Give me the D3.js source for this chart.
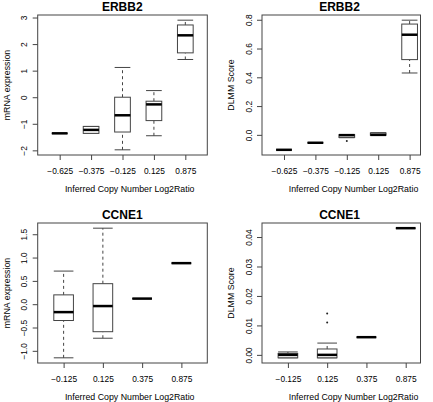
<!DOCTYPE html>
<html>
<head>
<meta charset="utf-8">
<script src="https://cdn.jsdelivr.net/npm/d3@7"></script>
<style>
  html, body { margin: 0; padding: 0; background: #fff; }
  svg { display: block; }
  text { font-family: "Liberation Sans", Arial, Helvetica, sans-serif; fill: #000; }
</style>
</head>
<body>
<div id="chart"></div>
<script>
// ---------------- data ----------------
const erbb2Categories = ["−0.625", "−0.375", "−0.125", "0.125", "0.875"];
const ccne1Categories = ["−0.125", "0.125", "0.375", "0.875"];

// box stats per group: [lower whisker, Q1, median, Q3, upper whisker]
const erbb2MrnaStats = [
  [-1.36, -1.36, -1.36, -1.36, -1.36],
  [-1.36, -1.36, -1.23, -1.10, -1.10],
  [-1.98, -1.31, -0.68, 0.00, 1.12],
  [-1.45, -0.88, -0.27, -0.15, 0.25],
  [1.42, 1.67, 2.33, 2.72, 2.90]
];
const erbb2MrnaOutliers = [[], [], [], [], []];

const erbb2DlmmStats = [
  [-0.104, -0.104, -0.104, -0.104, -0.104],
  [-0.055, -0.055, -0.055, -0.055, -0.055],
  [-0.020, -0.018, -0.002, 0.001, 0.002],
  [-0.003, -0.002, 0.000, 0.013, 0.015],
  [0.430, 0.523, 0.696, 0.770, 0.797]
];
const erbb2DlmmOutliers = [[], [], [-0.042], [], []];

const ccne1MrnaStats = [
  [-1.15, -0.35, -0.17, 0.20, 0.71],
  [-0.73, -0.59, -0.04, 0.44, 1.63],
  [0.12, 0.12, 0.12, 0.12, 0.12],
  [0.88, 0.88, 0.88, 0.88, 0.88]
];
const ccne1MrnaOutliers = [[], [], [], []];

const ccne1DlmmStats = [
  [-0.001, -0.001, 0.000, 0.0005, 0.001],
  [-0.001, -0.001, 0.000, 0.002, 0.004],
  [0.006, 0.006, 0.006, 0.006, 0.006],
  [0.043, 0.043, 0.043, 0.043, 0.043]
];
const ccne1DlmmOutliers = [[], [0.011, 0.014], [], []];

const erbb2MrnaTicks = [-2, -1, 0, 1, 2, 3];
const erbb2DlmmTicks = [0, 0.2, 0.4, 0.6, 0.8];
const ccne1MrnaTicks = [-1, -0.5, 0, 0.5, 1, 1.5];
const ccne1DlmmTicks = [0, 0.01, 0.02, 0.03, 0.04];

const panelTitles = ["ERBB2", "ERBB2", "CCNE1", "CCNE1"];
const yAxisTitles = ["mRNA expression", "DLMM Score", "mRNA expression", "DLMM Score"];
const xAxisTitle = "Inferred Copy Number Log2Ratio";

// ---------------- layout ----------------
const W = 433, H = 402;
// scaleRight: end of the data range; frameRight: where the frame is drawn
const cols = [
  { left: 37.7, scaleRight: 207.3, frameRight: 207.3, titleX: 122.3, xlabX: 129.7 },
  { left: 262, scaleRight: 431.6, frameRight: 420.5, titleX: 339.5, xlabX: 353.5 }
];
const rows = [{ top: 15, bottom: 155 }, { top: 223, bottom: 363 }];

const panels = [
  { col: 0, row: 0, cats: erbb2Categories, stats: erbb2MrnaStats, out: erbb2MrnaOutliers, ticks: erbb2MrnaTicks, fmt: d3.format("d"), title: panelTitles[0], ylab: yAxisTitles[0] },
  { col: 1, row: 0, cats: erbb2Categories, stats: erbb2DlmmStats, out: erbb2DlmmOutliers, ticks: erbb2DlmmTicks, fmt: d3.format(".1f"), title: panelTitles[1], ylab: yAxisTitles[1] },
  { col: 0, row: 1, cats: ccne1Categories, stats: ccne1MrnaStats, out: ccne1MrnaOutliers, ticks: ccne1MrnaTicks, fmt: d3.format(".1f"), title: panelTitles[2], ylab: yAxisTitles[2] },
  { col: 1, row: 1, cats: ccne1Categories, stats: ccne1DlmmStats, out: ccne1DlmmOutliers, ticks: ccne1DlmmTicks, fmt: d3.format(".2f"), title: panelTitles[3], ylab: yAxisTitles[3] }
];

const LINE = "#444";
const svg = d3.select("#chart").append("svg").attr("width", W).attr("height", H);

panels.forEach(p => {
  const c = cols[p.col];
  const L = c.left;
  const T = rows[p.row].top, B = rows[p.row].bottom;
  const n = p.cats.length;
  const x = d3.scaleLinear().domain([0.5 - 0.04 * n, n + 0.5 + 0.04 * n]).range([L, c.scaleRight]);
  const allVals = p.stats.flat().concat(p.out.flat());
  const [lo, hi] = d3.extent(allVals);
  const ext = (hi - lo) * 0.04;
  const y = d3.scaleLinear().domain([lo - ext, hi + ext]).range([B, T]);
  const g = svg.append("g");
  const positions = d3.range(1, n + 1);
  const halfW = 0.25;

  positions.forEach((pos, i) => {
    const s = p.stats[i];
    const bx = g.append("g");
    bx.append("line").attr("x1", x(pos)).attr("x2", x(pos)).attr("y1", y(s[0])).attr("y2", y(s[1]))
      .attr("stroke", LINE).attr("stroke-width", 1).attr("stroke-dasharray", "3,3");
    bx.append("line").attr("x1", x(pos)).attr("x2", x(pos)).attr("y1", y(s[3])).attr("y2", y(s[4]))
      .attr("stroke", LINE).attr("stroke-width", 1).attr("stroke-dasharray", "3,3");
    [s[0], s[4]].forEach(v => {
      bx.append("line").attr("x1", x(pos - halfW)).attr("x2", x(pos + halfW)).attr("y1", y(v)).attr("y2", y(v))
        .attr("stroke", LINE).attr("stroke-width", 1);
    });
    bx.append("rect").attr("x", x(pos - halfW)).attr("width", x(pos + halfW) - x(pos - halfW))
      .attr("y", y(s[3])).attr("height", Math.max(0, y(s[1]) - y(s[3])))
      .attr("fill", "#fff").attr("stroke", LINE).attr("stroke-width", 1);
    bx.append("line").attr("x1", x(pos - halfW)).attr("x2", x(pos + halfW)).attr("y1", y(s[2])).attr("y2", y(s[2]))
      .attr("stroke", "#000").attr("stroke-width", 2.5);
    p.out[i].forEach(v => {
      bx.append("circle").attr("cx", x(pos)).attr("cy", y(v)).attr("r", 1).attr("fill", "#222");
    });
  });

  g.append("rect").attr("x", L).attr("y", T).attr("width", c.frameRight - L).attr("height", B - T)
    .attr("fill", "none").attr("stroke", LINE).attr("stroke-width", 1);

  const xAxis = d3.axisBottom(x).tickValues(positions).tickFormat((d, i) => p.cats[i]).tickSize(5).tickPadding(2);
  const gx = g.append("g").attr("transform", `translate(0,${B})`).call(xAxis);
  gx.select(".domain").remove();
  gx.selectAll(".tick line").attr("stroke", LINE);
  gx.selectAll(".tick text").attr("font-size", 8.4).attr("dy", null).attr("y", 19)
    .style("font-family", "'Liberation Sans', Arial, sans-serif").attr("fill", "#000");

  const yAxis = d3.axisLeft(y).tickValues(p.ticks).tickFormat(p.fmt).tickSize(5);
  const gy = g.append("g").attr("transform", `translate(${L},0)`).call(yAxis);
  gy.select(".domain").remove();
  gy.selectAll(".tick line").attr("stroke", LINE);
  gy.selectAll(".tick text").attr("font-size", 8.4).attr("x", 0).attr("y", -10.5).attr("dy", null)
    .attr("transform", "rotate(-90)").attr("text-anchor", "middle")
    .style("font-family", "'Liberation Sans', Arial, sans-serif").attr("fill", "#000");

  g.append("text").attr("x", c.titleX).attr("y", T - 3.7).attr("text-anchor", "middle")
    .attr("font-size", 12).attr("font-weight", "bold").text(p.title);
  g.append("text").attr("x", c.xlabX).attr("y", B + 36.5).attr("text-anchor", "middle")
    .attr("font-size", 8.8).text(xAxisTitle);
  g.append("text").attr("transform", `translate(${L - 28},${(T + B) / 2}) rotate(-90)`)
    .attr("text-anchor", "middle").attr("font-size", 8.8).text(p.ylab);
});
</script>
</body>
</html>
